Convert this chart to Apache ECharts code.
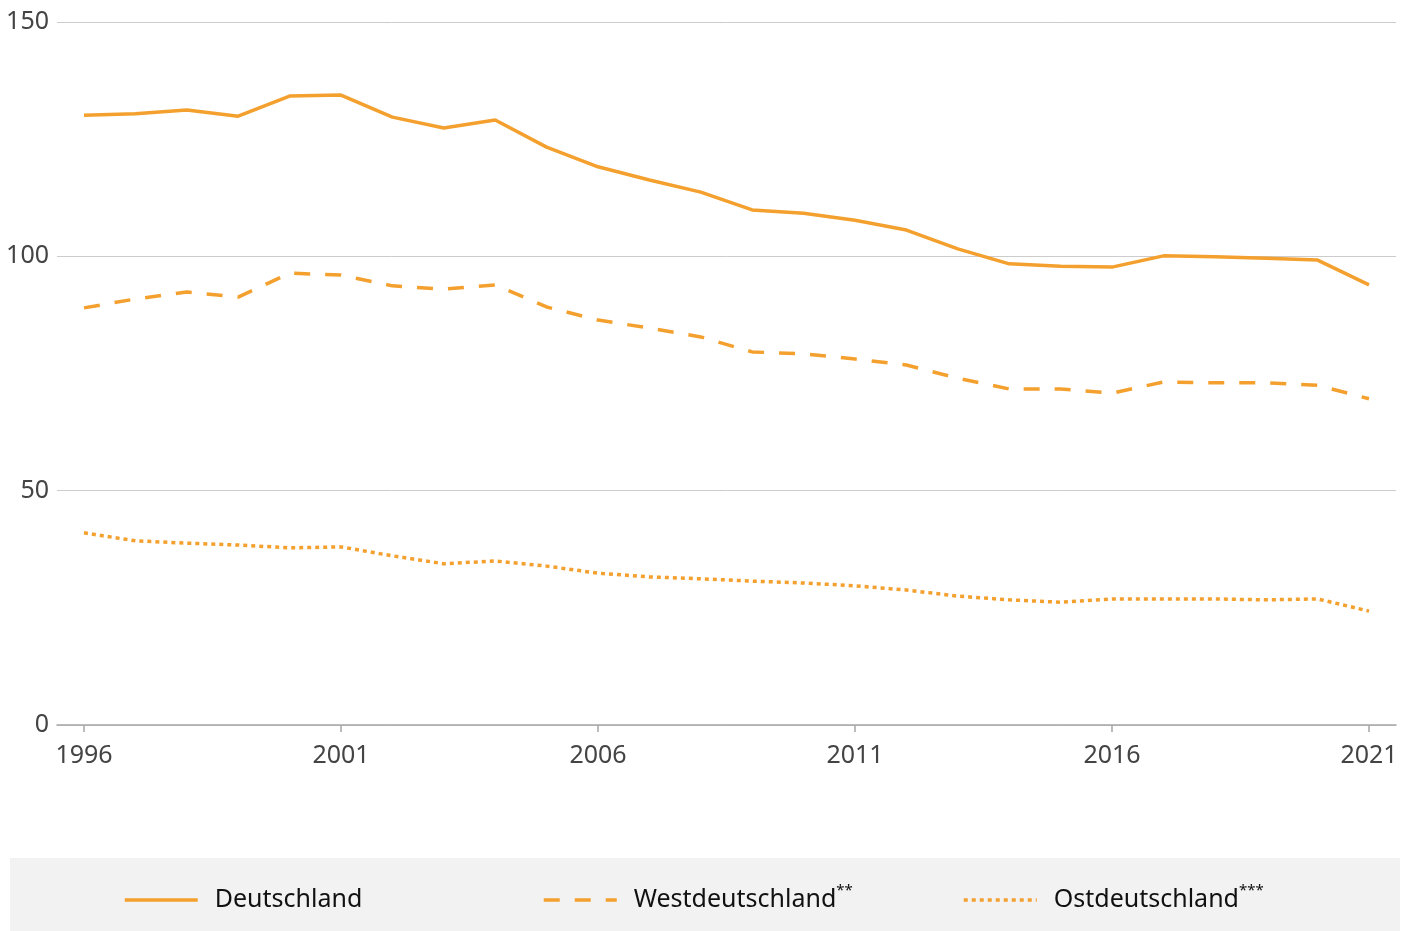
<!DOCTYPE html>
<html>
<head>
<meta charset="utf-8">
<script src="https://cdn.jsdelivr.net/npm/echarts@6/dist/echarts.min.js"></script>
<style>
  html, body { margin: 0; padding: 0; background: #fff; }
  #chart { width: 1416px; height: 931px; }
</style>
</head>
<body>
<div id="chart"></div>
<script>
  // Data
  const years = [1996, 1997, 1998, 1999, 2000, 2001, 2002, 2003, 2004, 2005, 2006, 2007, 2008,
                 2009, 2010, 2011, 2012, 2013, 2014, 2015, 2016, 2017, 2018, 2019, 2020, 2021];
  const deutschland = [130.1, 130.4, 131.2, 129.9, 134.2, 134.4, 129.7, 127.4, 129.1, 123.3, 119.1, 116.3, 113.7,
                       109.9, 109.2, 107.7, 105.6, 101.6, 98.4, 97.9, 97.7, 100.1, 99.9, 99.6, 99.2, 93.9];
  const westdeutschland = [89.0, 90.9, 92.4, 91.3, 96.4, 96.0, 93.7, 93.0, 93.9, 89.2, 86.4, 84.7, 82.8,
                           79.6, 79.2, 78.1, 76.8, 74.0, 71.7, 71.7, 70.8, 73.2, 73.0, 73.0, 72.5, 69.6];
  const ostdeutschland = [41.0, 39.3, 38.8, 38.4, 37.8, 38.0, 36.1, 34.4, 35.0, 33.9, 32.4, 31.6, 31.2,
                          30.7, 30.3, 29.7, 28.8, 27.5, 26.7, 26.2, 26.9, 26.9, 26.9, 26.7, 26.9, 24.3];
  const xTicks = [1996, 2001, 2006, 2011, 2016, 2021];

  const orange = '#f4a02e';
  const font = '"Noto Sans", sans-serif';
  const dashed = [16, 15];
  const dotted = [4, 4];

  const pairs = vals => years.map((y, i) => [y, vals[i]]);

  const chart = echarts.init(document.getElementById('chart'));

  // one legend per item so each can sit where the reference puts it
  const legendAt = (left, name, type) => ({
    orient: 'horizontal',
    left: left,
    top: 883,
    padding: 0,
    itemWidth: 73,
    itemHeight: 14,
    selectedMode: false,
    data: [name],
    itemStyle: { opacity: 0 },
    lineStyle: { color: orange, width: 3.5, type: type, cap: 'butt' },
    formatter: n => {
      if (n === 'Westdeutschland') return '{a|Westdeutschland}{s|**}';
      if (n === 'Ostdeutschland') return '{a|Ostdeutschland}{s|***}';
      return '{a|' + n + '}{s|}';
    },
    textStyle: {
      padding: [0, 0, 0, 12],
      rich: {
        a: { fontFamily: font, fontSize: 25, color: '#111', lineHeight: 34 },
        s: { fontFamily: font, fontSize: 15, color: '#111', lineHeight: 18, verticalAlign: 'top' }
      }
    }
  });

  chart.setOption({
    animation: false,
    graphic: [{
      type: 'rect',
      shape: { x: 10, y: 858, width: 1390, height: 80 },
      style: { fill: '#f2f2f2' },
      silent: true,
      z: -1
    }],
    legend: [
      legendAt(123, 'Deutschland', 'solid'),
      legendAt(542, 'Westdeutschland', dashed),
      legendAt(962, 'Ostdeutschland', dotted)
    ],
    grid: { left: 57, right: 20, top: 22, bottom: 206, containLabel: false },
    xAxis: {
      type: 'value',
      min: 1995.475,
      max: 2021.525,
      splitLine: { show: false },
      axisLine: { show: true, lineStyle: { color: '#a6a6a6', width: 1.5 } },
      axisTick: { show: true, customValues: xTicks, length: 7, lineStyle: { color: '#a6a6a6', width: 1.5 } },
      axisLabel: {
        customValues: xTicks,
        margin: 18,
        fontFamily: font,
        fontSize: 25,
        color: '#444',
        formatter: v => String(Math.round(v))
      }
    },
    yAxis: {
      type: 'value',
      min: 0,
      max: 150,
      interval: 50,
      axisLine: { show: false },
      axisTick: { show: false },
      splitLine: { lineStyle: { color: '#cccccc', width: 1 } },
      axisLabel: { margin: 8, fontFamily: font, fontSize: 25, color: '#444' }
    },
    series: [
      {
        name: 'Deutschland', type: 'line', data: pairs(deutschland),
        symbol: 'none', color: orange,
        lineStyle: { color: orange, width: 3.5, type: 'solid' }
      },
      {
        name: 'Westdeutschland', type: 'line', data: pairs(westdeutschland),
        symbol: 'none', color: orange,
        lineStyle: { color: orange, width: 3.5, type: dashed }
      },
      {
        name: 'Ostdeutschland', type: 'line', data: pairs(ostdeutschland),
        symbol: 'none', color: orange,
        lineStyle: { color: orange, width: 3.5, type: dotted }
      }
    ]
  });
</script>
</body>
</html>
